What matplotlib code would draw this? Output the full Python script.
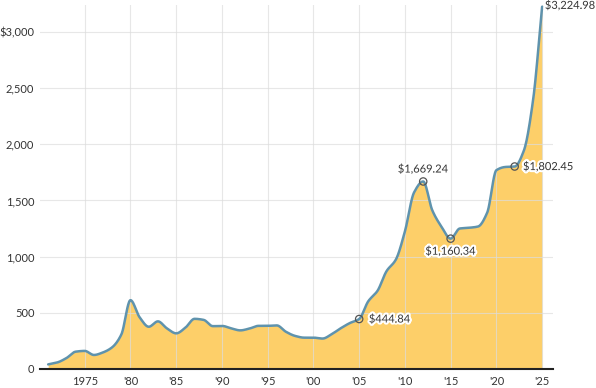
import matplotlib
matplotlib.use("Agg")
import matplotlib.pyplot as plt
import matplotlib.patheffects as pe
import numpy as np

plt.rcParams['font.family'] = ['Lato', 'DejaVu Sans']

# yearly average gold price, USD per ounce
years = list(range(1971, 2026))
prices = [40.8, 58.2, 97.3, 154.0, 160.9, 124.8, 147.7, 193.2, 306.7, 612.6,
          460.0, 375.9, 424.0, 360.7, 317.3, 367.5, 446.5, 437.0, 381.4, 383.5,
          362.1, 343.8, 359.8, 384.0, 384.2, 387.8, 331.0, 294.2, 278.9, 279.1,
          271.0, 310.0, 363.4, 409.7, 444.84, 603.5, 695.4, 872.0, 972.4, 1224.5,
          1571.5, 1669.24, 1411.2, 1266.4, 1160.34, 1250.7, 1257.1, 1268.5, 1392.6, 1769.6,
          1798.6, 1802.45, 1943.0, 2386.0, 3224.98]

marked_years = [2005, 2012, 2015, 2022]
tick_years = [1975, 1980, 1985, 1990, 1995, 2000, 2005, 2010, 2015, 2020, 2025]
tick_labels = ["1975", "'80", "'85", "'90", "'95", "'00", "'05", "'10", "'15", "'20", "'25"]
y_ticks = [0, 500, 1000, 1500, 2000, 2500, 3000]
y_labels = ["0", "500", "1,000", "1,500", "2,000", "2,500", "$3,000"]


def monotone_curve(x, y, n=20):
    """monotone cubic (Fritsch-Carlson) so the line looks smooth like the original"""
    x = np.asarray(x, float)
    y = np.asarray(y, float)
    h = np.diff(x)
    d = np.diff(y) / h
    m = np.zeros_like(y)
    m[0], m[-1] = d[0], d[-1]
    for i in range(1, len(y) - 1):
        if d[i - 1] * d[i] > 0:
            w1 = 2 * h[i] + h[i - 1]
            w2 = h[i] + 2 * h[i - 1]
            m[i] = (w1 + w2) / (w1 / d[i - 1] + w2 / d[i])
    xs, ys = [], []
    for i in range(len(x) - 1):
        t = np.linspace(0, 1, n, endpoint=False)
        h00 = 2 * t**3 - 3 * t**2 + 1
        h10 = t**3 - 2 * t**2 + t
        h01 = -2 * t**3 + 3 * t**2
        h11 = t**3 - t**2
        xs.append(x[i] + t * h[i])
        ys.append(h00 * y[i] + h10 * h[i] * m[i] + h01 * y[i + 1] + h11 * h[i] * m[i + 1])
    xs.append([x[-1]])
    ys.append([y[-1]])
    return np.concatenate(xs), np.concatenate(ys)


fig = plt.figure(figsize=(5.96, 3.88), dpi=100)
ax = fig.add_axes([0.067, 0.049, 0.861, 0.938])

sx, sy = monotone_curve(years, prices)
ax.fill_between(sx, 0, sy, color='#fdcf69', lw=0, zorder=1)
ax.plot(sx, sy, color='#5f93ad', lw=1.8, zorder=3, solid_capstyle='round')

ax.set_xlim(1970.1, 2026.2)
ax.set_ylim(0, 3240)
ax.set_xticks(tick_years)
ax.set_xticklabels(tick_labels)
ax.set_yticks(y_ticks)
ax.set_yticklabels(y_labels)
ax.tick_params(length=0, labelsize=8, colors='#333333', pad=4)
ax.tick_params(axis='x', pad=5)
ax.grid(True, color='#dddddd', lw=0.8, alpha=0.7, zorder=2)
ax.set_axisbelow(False)
for s in ['top', 'right', 'left']:
    ax.spines[s].set_visible(False)
ax.spines['bottom'].set_color('#222222')
ax.spines['bottom'].set_linewidth(1.5)
ax.spines['bottom'].set_zorder(4)

halo = [pe.withStroke(linewidth=3, foreground='white')]
for yr in marked_years:
    v = prices[years.index(yr)]
    ax.scatter([yr], [v], s=28, facecolor='none', edgecolor='#555555', lw=0.9, zorder=5)

lab = dict(fontsize=8, color='#333333', path_effects=halo, zorder=6)
v = prices[years.index(2005)]
ax.annotate(f"${v:,.2f}", (2005, v), xytext=(7, 0), textcoords='offset points', ha='left', va='center', **lab)
v = prices[years.index(2012)]
ax.annotate(f"${v:,.2f}", (2012, v), xytext=(0, 5), textcoords='offset points', ha='center', va='bottom', **lab)
v = prices[years.index(2015)]
ax.annotate(f"${v:,.2f}", (2015, v), xytext=(0, -5), textcoords='offset points', ha='center', va='top', **lab)
v = prices[years.index(2022)]
ax.annotate(f"${v:,.2f}", (2022, v), xytext=(6, 0), textcoords='offset points', ha='left', va='center', **lab)
v = prices[-1]
ax.annotate(f"${v:,.2f}", (years[-1], v), xytext=(2, 1), textcoords='offset points', ha='left', va='center',
            annotation_clip=False, **lab)

fig.savefig("out.png", dpi=100)
